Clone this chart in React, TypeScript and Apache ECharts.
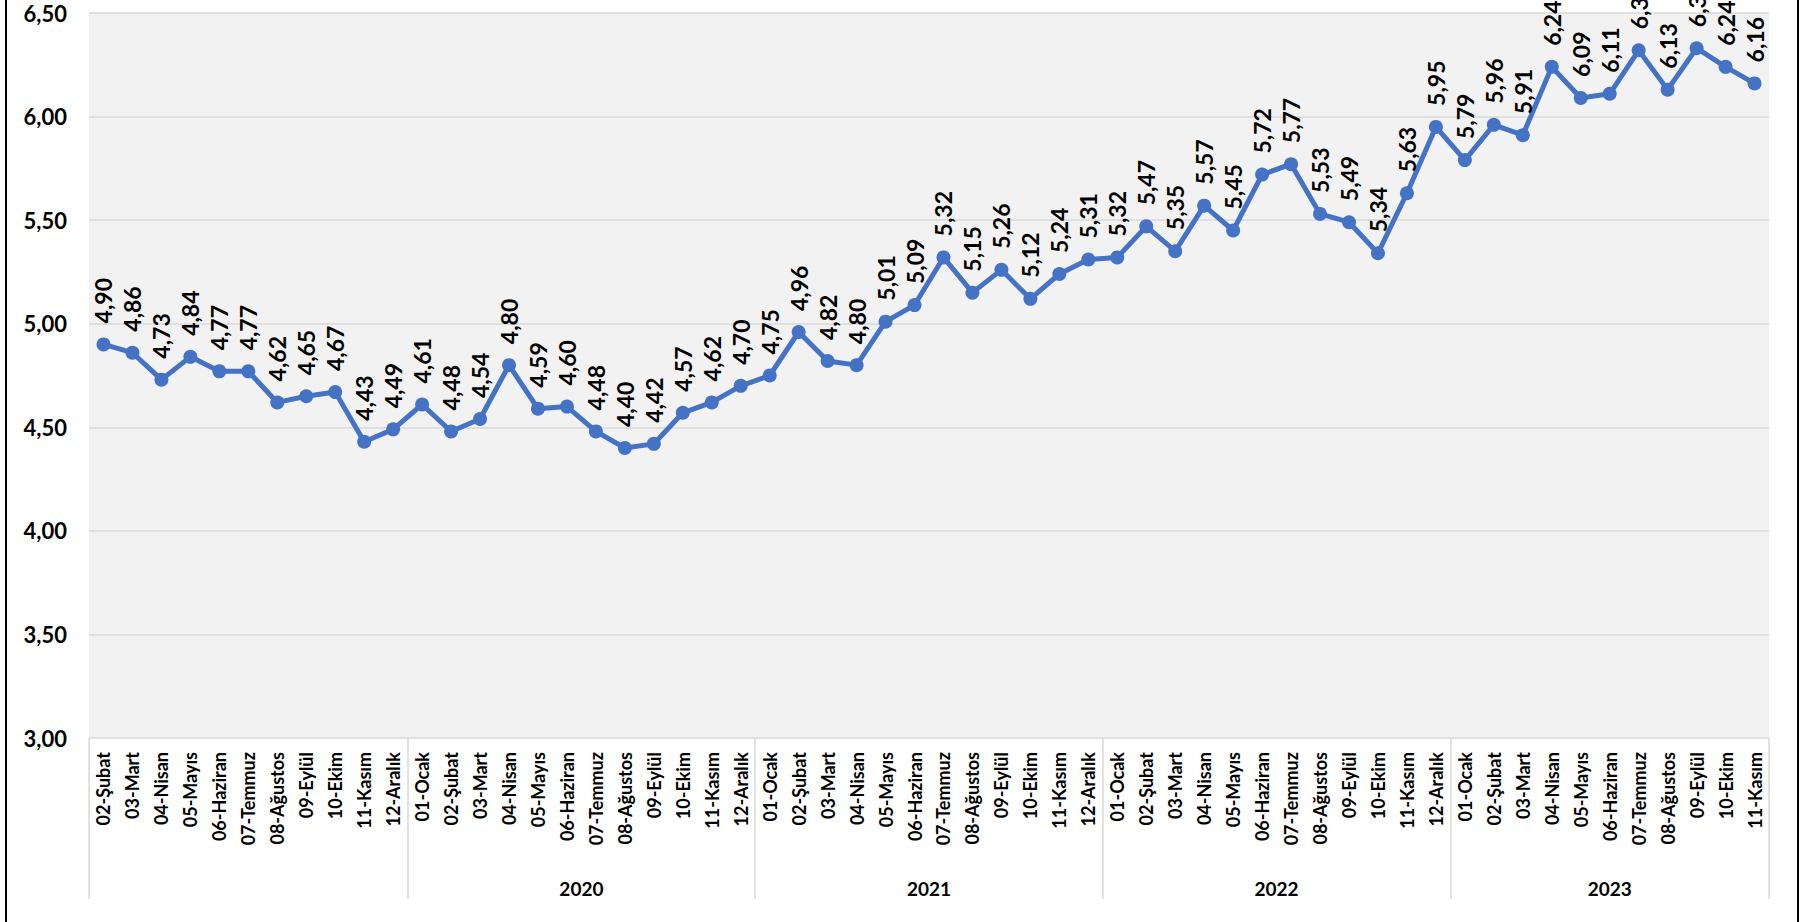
import React, { useEffect, useRef } from "react";
import * as echarts from "echarts";

const monthNames = ["01-Ocak", "02-Şubat", "03-Mart", "04-Nisan", "05-Mayıs", "06-Haziran", "07-Temmuz", "08-Ağustos", "09-Eylül", "10-Ekim", "11-Kasım", "12-Aralık"];

const yearLabels = ["", "2020", "2021", "2022", "2023"];
const yearFirstMonth = [2, 1, 1, 1, 1];
const yearLastMonth = [12, 12, 12, 12, 11];

const values2019 = [4.90, 4.86, 4.73, 4.84, 4.77, 4.77, 4.62, 4.65, 4.67, 4.43, 4.49];
const values2020 = [4.61, 4.48, 4.54, 4.80, 4.59, 4.60, 4.48, 4.40, 4.42, 4.57, 4.62, 4.70];
const values2021 = [4.75, 4.96, 4.82, 4.80, 5.01, 5.09, 5.32, 5.15, 5.26, 5.12, 5.24, 5.31];
const values2022 = [5.32, 5.47, 5.35, 5.57, 5.45, 5.72, 5.77, 5.53, 5.49, 5.34, 5.63, 5.95];
const values2023 = [5.79, 5.96, 5.91, 6.24, 6.09, 6.11, 6.32, 6.13, 6.33, 6.24, 6.16];

const yMin = 3;
const yMax = 6.5;
const yStep = 0.5;

const FONT = "Lato, 'Noto Sans', sans-serif";

export default function App() {
  const ref = useRef<HTMLDivElement>(null);

  useEffect(() => {
    if (!ref.current) return;
    const chart = echarts.init(ref.current, undefined, { renderer: "svg" });

    const categories: string[] = [];
    const groupSizes: number[] = [];
    yearLabels.forEach((_, gi) => {
      let n = 0;
      for (let m = yearFirstMonth[gi]; m <= yearLastMonth[gi]; m++) {
        categories.push(monthNames[m - 1]);
        n++;
      }
      groupSizes.push(n);
    });
    const values = [...values2019, ...values2020, ...values2021, ...values2022, ...values2023];

    const bounds: number[] = [0];
    groupSizes.forEach((n) => bounds.push(bounds[bounds.length - 1] + n));
    const centers = groupSizes.map((n, i) => bounds[i] + n / 2);
    const total = bounds[bounds.length - 1];

    const fmt = (v: number) => v.toFixed(2).replace(".", ",");

    chart.setOption({
      animation: false,
      backgroundColor: "#ffffff",
      grid: {
        left: 89,
        right: 39,
        top: 13,
        bottom: 184,
        show: true,
        backgroundColor: "#f2f2f2",
        borderWidth: 0,
      },
      xAxis: [
        {
          type: "category",
          data: categories,
          boundaryGap: true,
          axisLine: { show: false },
          axisTick: { show: false },
          axisLabel: {
            rotate: 90,
            interval: 0,
            margin: 14,
            color: "#000",
            fontFamily: FONT,
            fontWeight: "bold",
            fontSize: 18,
          },
        },
        {
          type: "value",
          min: 0,
          max: total,
          position: "bottom",
          axisLine: { show: false },
          splitLine: { show: false },
          axisTick: {
            show: true,
            customValues: bounds,
            length: 161,
            lineStyle: { color: "#d9d9d9", width: 1.5 },
          },
          axisLabel: {
            customValues: centers,
            margin: 141,
            color: "#000",
            fontFamily: FONT,
            fontWeight: "bold",
            fontSize: 19,
            formatter: (v: number) => {
              const i = centers.findIndex((c) => Math.abs(c - v) < 1e-6);
              return i >= 0 ? yearLabels[i] : "";
            },
          },
        },
      ],
      yAxis: {
        type: "value",
        min: yMin,
        max: yMax,
        interval: yStep,
        axisLine: { show: false },
        axisTick: { show: false },
        splitLine: { show: true, lineStyle: { color: "#d9d9d9", width: 1.5 } },
        axisLabel: {
          margin: 22,
          color: "#000",
          fontFamily: FONT,
          fontWeight: "bold",
          fontSize: 22,
          formatter: fmt,
        },
      },
      series: [
        {
          type: "line",
          data: values,
          xAxisIndex: 0,
          symbol: "circle",
          symbolSize: 14,
          lineStyle: { color: "#4472c4", width: 5 },
          itemStyle: { color: "#4472c4" },
          label: {
            show: true,
            position: "top",
            distance: 14,
            rotate: 90,
            align: "left",
            verticalAlign: "middle",
            color: "#000",
            fontFamily: FONT,
            fontWeight: "bold",
            fontSize: 23,
            formatter: (p: any) => fmt(p.value),
          },
        },
      ],
      graphic: [
        {
          type: "rect",
          shape: { x: 6, y: -10, width: 1792, height: 945 },
          style: { fill: "none", stroke: "#000", lineWidth: 2 },
          silent: true,
        },
      ],
    });

    return () => chart.dispose();
  }, []);

  return (
    <div
      ref={ref}
      style={{ position: "fixed", left: 0, top: 0, width: 1808, height: 922 }}
    />
  );
}
